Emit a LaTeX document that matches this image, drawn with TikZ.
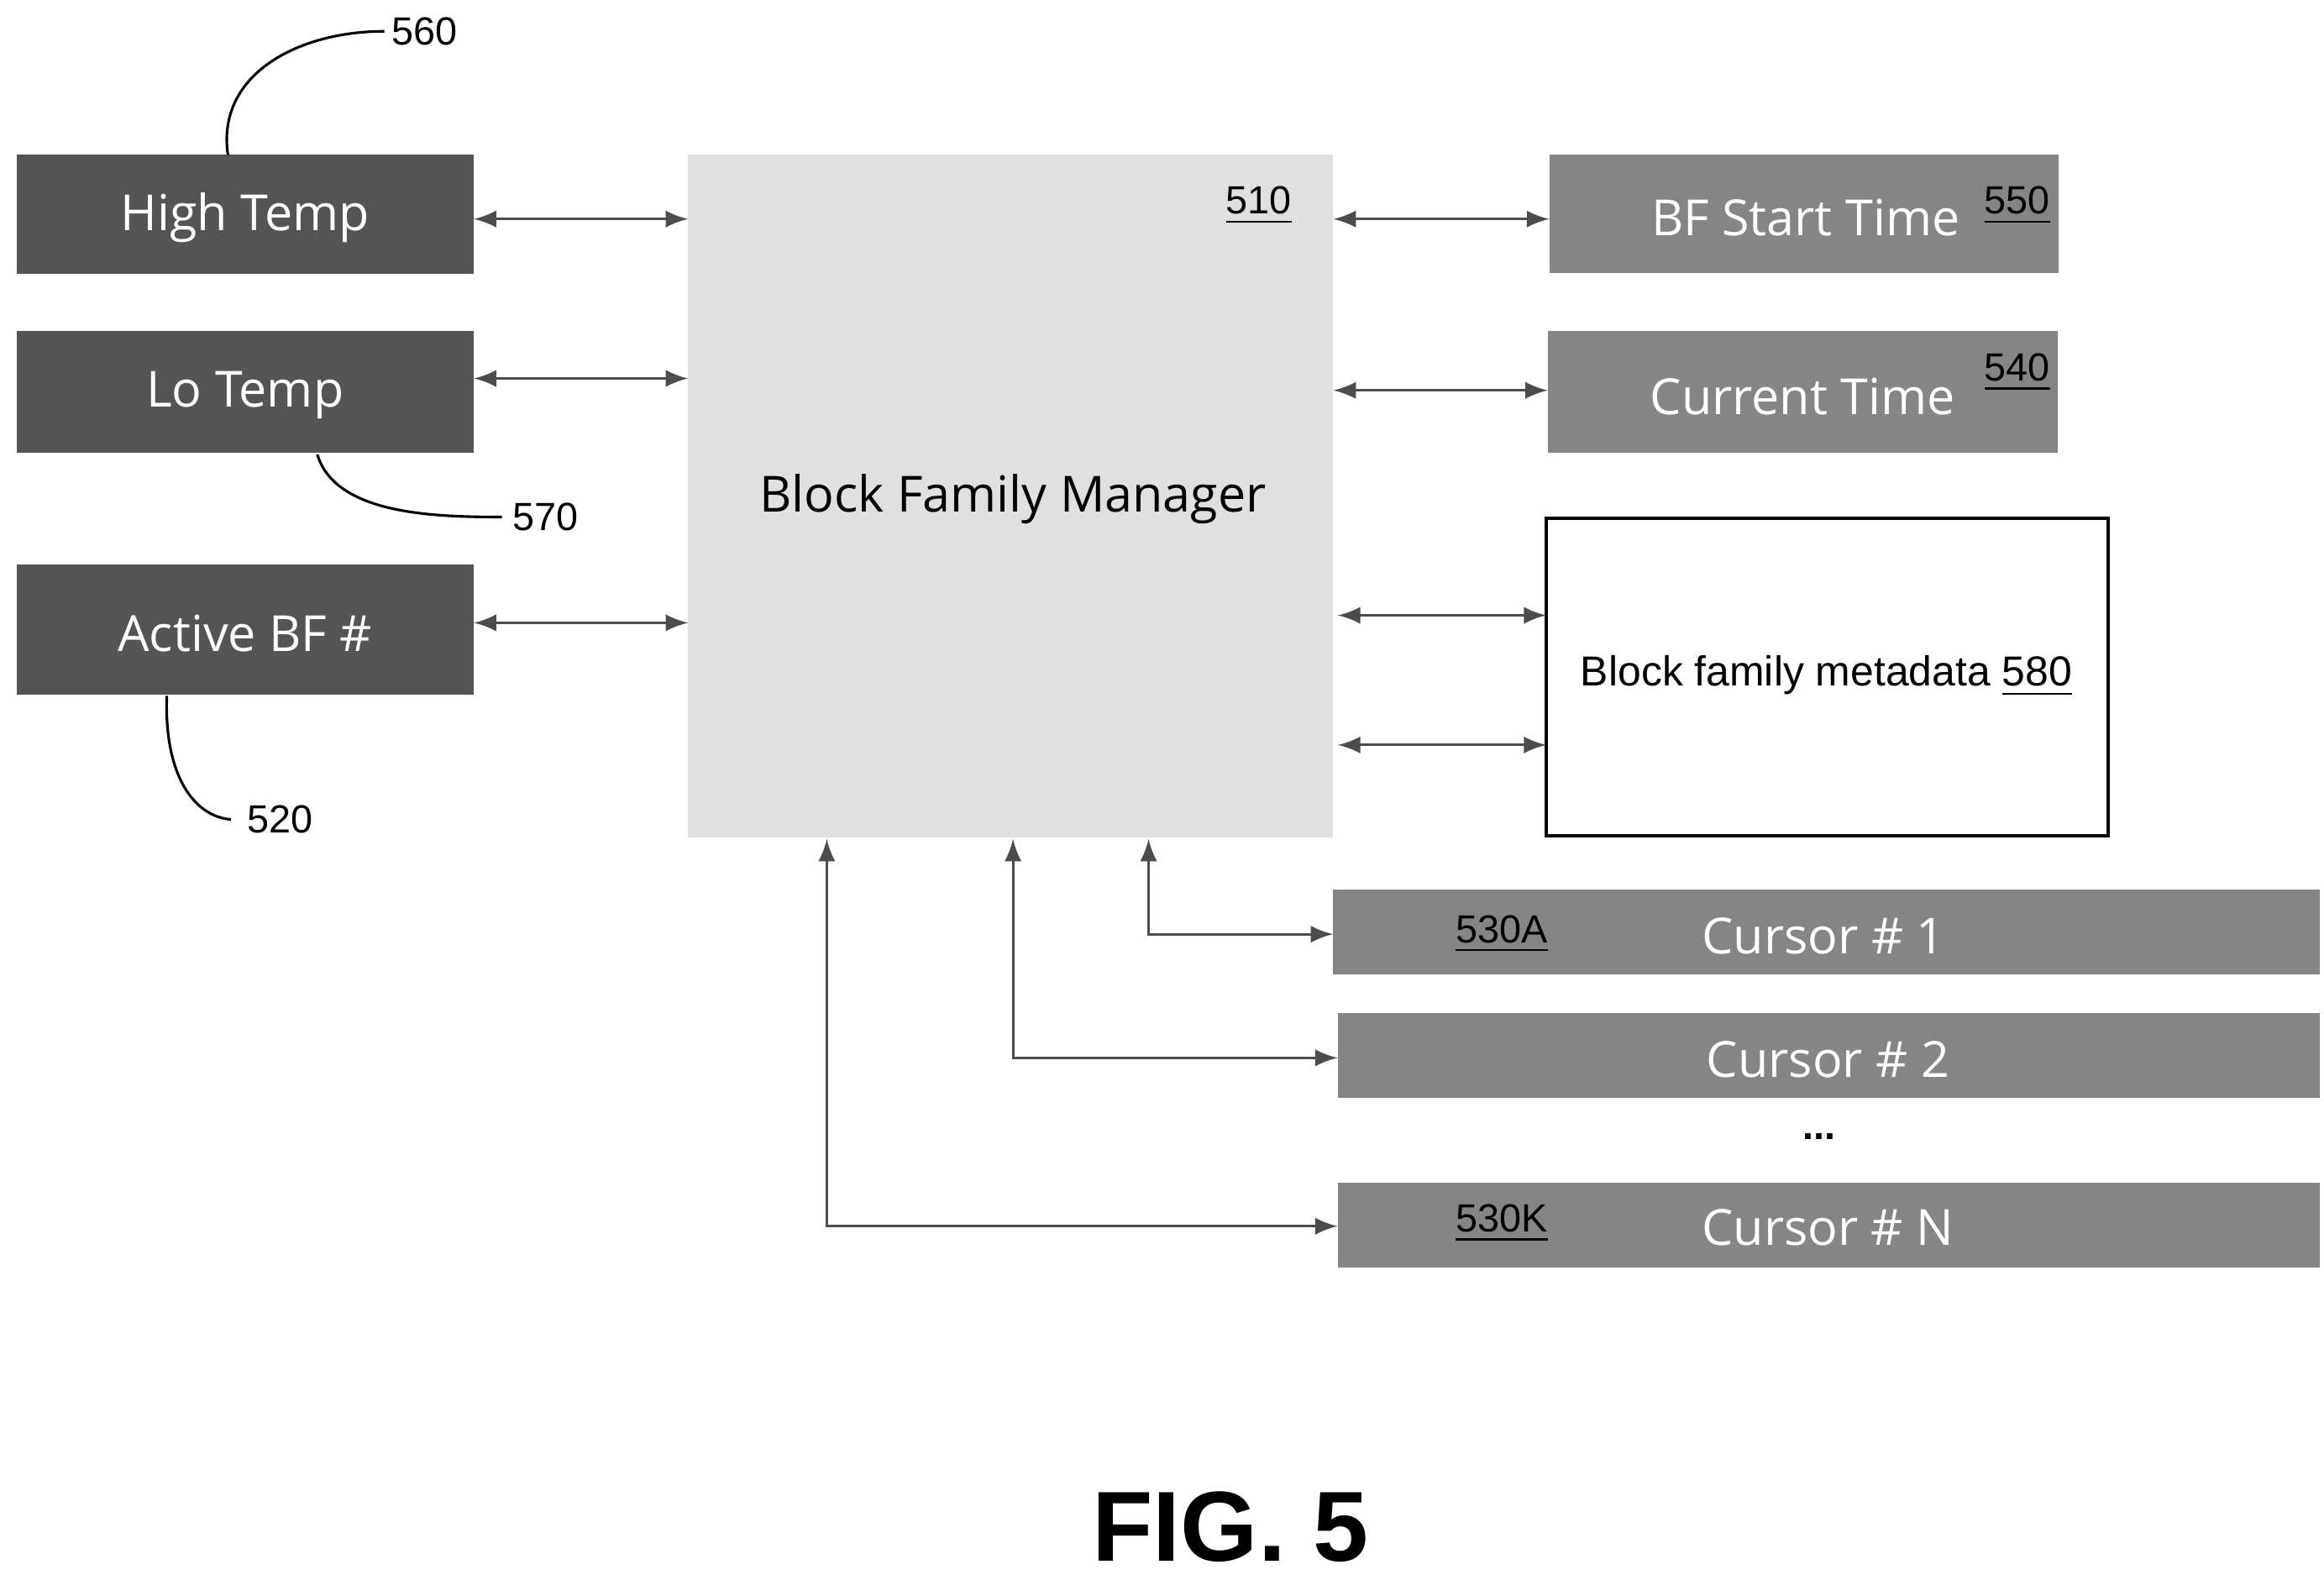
\documentclass[tikz,border=0pt]{standalone}
\usepackage{fontspec}
\setmainfont{Liberation Sans}
\newfontfamily\boxfont{Open Sans}
\usetikzlibrary{calc}
\begin{document}
\begin{tikzpicture}[x=0.01cm,y=-0.01cm,
  dark/.style={fill=black!67,draw=none,text=white,font=\boxfont\fontsize{9.5pt}{11pt}\selectfont},
  mid/.style={fill=black!48,draw=none,text=white,font=\boxfont\fontsize{9.5pt}{11pt}\selectfont},
  lbl/.style={font=\fontsize{7.5pt}{8pt}\selectfont},
  wlbl/.style={font=\fontsize{7.5pt}{8pt}\selectfont,text=black},
  conn/.style={draw=black!70,line width=0.5pt,<->,>=latex},
  lead/.style={draw=black,line width=0.5pt}]
\useasboundingbox (0,0) rectangle (1560,1057);
% left boxes
\fill[black!67] (11,104) rectangle (318,184);
\node[dark] (ht) at (164.5,146) {High Temp};
\fill[black!67] (11,222) rectangle (318,304);
\node[dark] (lt) at (164.5,265) {Lo Temp};
\fill[black!67] (11,379) rectangle (318,466);
\node[dark] (ab) at (164.5,425) {Active BF \#};
% manager
\fill[black!12] (462,104) rectangle (895,562);
\node[font=\boxfont\fontsize{9.5pt}{11pt}\selectfont] (bfm) at (680,335) {Block Family Manager};
\node[lbl] (n510) at (845,138) {\underline{510}};
% right boxes
\fill[black!48] (1040,104) rectangle (1382,183);
\node[mid] (st) at (1212,146) {BF Start Time};
\node[wlbl] (n550) at (1354,138) {\underline{550}};
\fill[black!48] (1039,222) rectangle (1381,304);
\node[mid] (ct) at (1210,266) {Current Time};
\node[wlbl] (n540) at (1354,250) {\underline{540}};
\draw[black,line width=0.6pt] (1038,348) rectangle (1415,561);
\node[font=\fontsize{8pt}{9pt}\selectfont] (md) at (1226,454) {Block family metadata \underline{580}};
% cursors
\fill[black!48] (895,597) rectangle (1557,654);
\node[wlbl] (n530a) at (1008,627) {\underline{530A}};
\node[mid] (c1) at (1224,628) {Cursor \# 1};
\fill[black!48] (898,680) rectangle (1557,737);
\node[mid] (c2) at (1227,711) {Cursor \# 2};
\node[lbl] (dots) at (1221,763) {\textbf{...}};
\fill[black!48] (898,794) rectangle (1557,851);
\node[wlbl] (n530k) at (1008,821) {\underline{530K}};
\node[mid] (cn) at (1227,824) {Cursor \# N};
% connectors
\coordinate (a1) at (318,147); \coordinate (b1) at (462,147);
\coordinate (a2) at (318,254); \coordinate (b2) at (462,254);
\coordinate (a3) at (318,418); \coordinate (b3) at (462,418);
\draw[conn] (a1) -- (b1); \draw[conn] (a2) -- (b2); \draw[conn] (a3) -- (b3);
\coordinate (r1) at (895,147); \coordinate (s1) at (1040,147);
\coordinate (r2) at (895,262); \coordinate (s2) at (1039,262);
\coordinate (r3) at (898,413); \coordinate (s3) at (1038,413);
\coordinate (r4) at (898,500); \coordinate (s4) at (1038,500);
\draw[conn] (r1) -- (s1); \draw[conn] (r2) -- (s2); \draw[conn] (r3) -- (s3); \draw[conn] (r4) -- (s4);
\coordinate (u1) at (771,563); \coordinate (v1) at (895,627);
\coordinate (u2) at (680,563); \coordinate (v2) at (898,710);
\coordinate (u3) at (555,563); \coordinate (v3) at (898,823);
\draw[conn] (u1) |- (v1); \draw[conn] (u2) |- (v2); \draw[conn] (u3) |- (v3);
% reference labels
\node[lbl] (n560) at (285,21) {560};
\draw[lead] (153,104) .. controls (145,50) and (200,21) .. (258,21);
\node[lbl] (n570) at (366,347) {570};
\draw[lead] (213,305) .. controls (225,345) and (290,347) .. (337,347);
\node[lbl] (n520) at (188,550) {520};
\draw[lead] (112,467) .. controls (110,520) and (130,548) .. (155,550);
\node[font=\bfseries\fontsize{19pt}{22pt}\selectfont] (fig) at (826,1025) {FIG. 5};
\end{tikzpicture}
\end{document}
